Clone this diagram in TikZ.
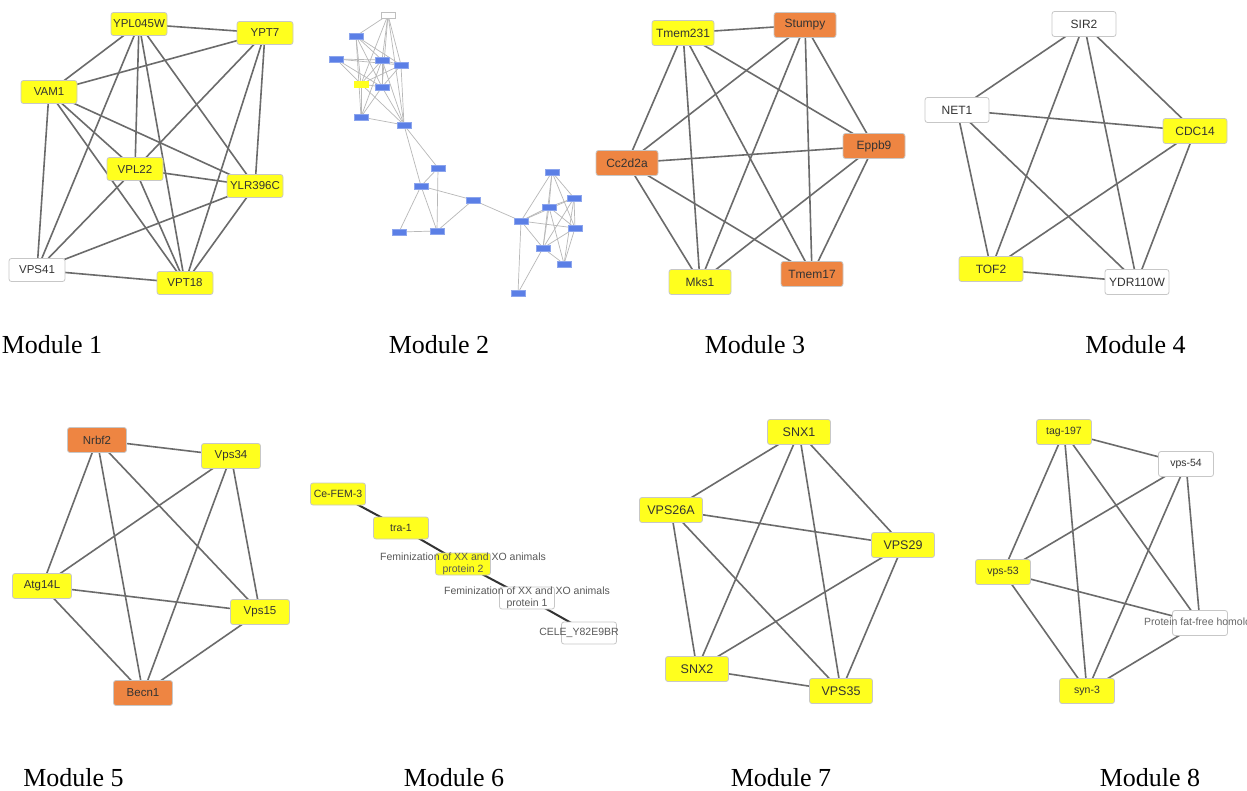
\documentclass[tikz,border=0pt]{standalone}
\usepackage{fontspec}
\setmainfont{Liberation Serif}
\newfontfamily\arialf{Liberation Sans}
\usetikzlibrary{backgrounds}
\definecolor{nyel}{HTML}{FFFF1E}
\definecolor{norg}{HTML}{EE8542}
\definecolor{nblue}{HTML}{5B7FE6}
\definecolor{ntext}{HTML}{333333}
\begin{document}
\begin{tikzpicture}[x=1pt,y=-1pt,
  gnode/.style={draw=black!22, rounded corners=2.5pt, line width=0.8pt, inner sep=0pt,
    text=ntext, minimum width=56pt, minimum height=23pt, fill=white},
  yel/.style={gnode, fill=nyel},
  org/.style={gnode, fill=norg},
  wht/.style={gnode, fill=white},
  f1/.style={font=\arialf\fontsize{11.5}{11.5}\selectfont},
  f3/.style={font=\arialf\fontsize{12}{12}\selectfont, minimum width=62pt, minimum height=25pt},
  f4/.style={font=\arialf\fontsize{12}{12}\selectfont, minimum width=64pt, minimum height=25pt},
  f5/.style={font=\arialf\fontsize{11.5}{11.5}\selectfont, minimum width=59pt, minimum height=25pt},
  f6/.style={font=\arialf\fontsize{10.5}{10.5}\selectfont, minimum width=55pt, minimum height=22pt},
  f7/.style={font=\arialf\fontsize{12.5}{12.5}\selectfont, minimum width=63pt, minimum height=25pt},
  f8/.style={font=\arialf\fontsize{10.5}{10.5}\selectfont, minimum width=55pt, minimum height=25pt},
  tiny/.style={draw=nblue!70!white, fill=nblue, minimum width=14pt, minimum height=6pt, inner sep=0pt, line width=0.4pt},
  edge/.style={draw=black!58, line width=1.6pt},
  ledge/.style={draw=black!28, line width=0.7pt},
  dedge/.style={draw=black!80, line width=2pt},
  mlabel/.style={font=\fontsize{26}{26}\selectfont, anchor=base, text=black, inner sep=0pt},
  ftext/.style={font=\arialf\fontsize{10.5}{12.5}\selectfont, text=black!65, align=center, inner sep=0pt}
]
\begin{pgfonlayer}{background}
\fill[white] (0,0) rectangle (1247,791);
\end{pgfonlayer}
\useasboundingbox (0,0) rectangle (1247,791);

% ---------------- Module 1
\node[yel,f1] (ypl) at (139,24) {YPL045W};
\node[yel,f1] (ypt7) at (265,33) {YPT7};
\node[yel,f1] (vam1) at (49,92) {VAM1};
\node[yel,f1] (vpl22) at (135,169) {VPL22};
\node[yel,f1] (ylr) at (255,186) {YLR396C};
\node[wht,f1] (vps41) at (37,270) {VPS41};
\node[yel,f1] (vpt18) at (185,283) {VPT18};
\begin{pgfonlayer}{background}
\foreach \a/\b in {ypl/ypt7,ypl/vam1,ypl/vps41,ypl/vpl22,ypl/vpt18,ypl/ylr,
  ypt7/vam1,ypt7/vpl22,ypt7/vpt18,ypt7/ylr,
  vam1/vps41,vam1/vpl22,vam1/vpt18,vam1/ylr,
  vpl22/ylr,vpl22/vps41,vpl22/vpt18,
  ylr/vps41,ylr/vpt18,vps41/vpt18}
  \draw[edge] (\a.center) -- (\b.center);
\end{pgfonlayer}

% ---------------- Module 2
\node[tiny, fill=white, draw=black!25] (m2w) at (388,15) {};
\node[tiny] (m2a) at (356,36) {};
\node[tiny] (m2b) at (336,59) {};
\node[tiny] (m2c) at (382,60) {};
\node[tiny] (m2d) at (401,65) {};
\node[tiny, fill=nyel, draw=nyel] (m2e) at (361,84) {};
\node[tiny] (m2f) at (382,87) {};
\node[tiny] (m2g) at (361,117) {};
\node[tiny] (m2h) at (404,125) {};
\node[tiny] (m2i) at (438,168) {};
\node[tiny] (m2j) at (421,186) {};
\node[tiny] (m2k) at (473,200) {};
\node[tiny] (m2l) at (399,232) {};
\node[tiny] (m2m) at (437,231) {};
\node[tiny] (m2n) at (552,172) {};
\node[tiny] (m2o) at (574,198) {};
\node[tiny] (m2p) at (549,207) {};
\node[tiny] (m2q) at (521,221) {};
\node[tiny] (m2r) at (575,228) {};
\node[tiny] (m2s) at (543,248) {};
\node[tiny] (m2t) at (564,264) {};
\node[tiny] (m2u) at (518,293) {};
\begin{pgfonlayer}{background}
\foreach \a/\b in {m2w/m2a,m2w/m2c,m2w/m2d,m2w/m2f,m2w/m2e,m2w/m2h,
  m2a/m2c,m2a/m2d,m2a/m2e,m2a/m2f,m2a/m2g,
  m2b/m2c,m2b/m2d,m2b/m2e,m2b/m2f,
  m2c/m2d,m2c/m2e,m2c/m2f,m2c/m2g,m2c/m2h,
  m2d/m2e,m2d/m2f,m2d/m2h,
  m2e/m2f,m2e/m2g,m2e/m2h,m2f/m2g,m2f/m2h,m2g/m2h,
  m2h/m2i,m2h/m2j,m2i/m2j,m2i/m2m,m2j/m2l,m2j/m2m,m2j/m2k,m2k/m2m,m2l/m2m,m2k/m2q,
  m2q/m2n,m2q/m2p,m2q/m2o,m2q/m2r,m2q/m2s,m2q/m2u,
  m2n/m2p,m2n/m2o,m2n/m2s,m2n/m2r,
  m2p/m2o,m2p/m2r,m2p/m2s,m2p/m2t,
  m2o/m2r,m2o/m2s,m2o/m2t,m2r/m2s,m2r/m2t,m2s/m2t,m2s/m2u}
  \draw[ledge] (\a.center) -- (\b.center);
\end{pgfonlayer}

% ---------------- Module 3
\node[yel,f3] (tm231) at (683,33) {Tmem231};
\node[org,f3] (stum) at (805,25) {Stumpy};
\node[org,f3] (eppb) at (874,146) {Eppb9};
\node[org,f3] (cc2) at (627,163) {Cc2d2a};
\node[yel,f3] (mks1) at (700,282) {Mks1};
\node[org,f3] (tm17) at (812,274) {Tmem17};
\begin{pgfonlayer}{background}
\foreach \a/\b in {tm231/stum,tm231/cc2,tm231/mks1,tm231/tm17,tm231/eppb,
  stum/cc2,stum/mks1,stum/tm17,stum/eppb,
  cc2/eppb,cc2/mks1,cc2/tm17,eppb/mks1,eppb/tm17}
  \draw[edge] (\a.center) -- (\b.center);
\end{pgfonlayer}

% ---------------- Module 4
\node[wht,f4] (sir2) at (1084,24) {SIR2};
\node[wht,f4] (net1) at (957,110) {NET1};
\node[yel,f4] (cdc14) at (1195,131) {CDC14};
\node[yel,f4] (tof2) at (991,269) {TOF2};
\node[wht,f4] (ydr) at (1137,282) {YDR110W};
\begin{pgfonlayer}{background}
\foreach \a/\b in {sir2/net1,sir2/tof2,sir2/ydr,sir2/cdc14,net1/cdc14,net1/tof2,net1/ydr,
  cdc14/tof2,cdc14/ydr,tof2/ydr}
  \draw[edge] (\a.center) -- (\b.center);
\end{pgfonlayer}

% ---------------- Module 5
\node[org,f5] (nrbf2) at (97,440) {Nrbf2};
\node[yel,f5] (vps34) at (231,456) {Vps34};
\node[yel,f5] (atg) at (42,586) {Atg14L};
\node[yel,f5] (vps15) at (260,612) {Vps15};
\node[org,f5] (becn) at (143,693) {Becn1};
\begin{pgfonlayer}{background}
\foreach \a/\b in {nrbf2/vps34,nrbf2/atg,nrbf2/becn,nrbf2/vps15,vps34/atg,vps34/becn,vps34/vps15,
  atg/vps15,atg/becn,vps15/becn}
  \draw[edge] (\a.center) -- (\b.center);
\end{pgfonlayer}

% ---------------- Module 6
\node[yel,f6] (fem3) at (338,494) {Ce-FEM-3};
\node[yel,f6] (tra1) at (401,528) {tra-1};
\node[yel,f6] (fxx2) at (463,564) {};
\node[wht,f6] (fxx1) at (527,598) {};
\node[wht,f6] (cele) at (589,633) {};
\begin{pgfonlayer}{background}
\foreach \a/\b in {fem3/tra1,tra1/fxx2,fxx2/fxx1,fxx1/cele}
  \draw[dedge] (\a.center) -- (\b.center);
\end{pgfonlayer}
\node[ftext] (fxx2t) at (fxx2.center) {Feminization of XX and XO animals\\protein 2};
\node[ftext] (fxx1t) at (fxx1.center) {Feminization of XX and XO animals\\protein 1};
\node[ftext] (celet) at ([xshift=-10pt]cele.center) {CELE\_Y82E9BR};

% ---------------- Module 7
\node[yel,f7] (snx1) at (799,432) {SNX1};
\node[yel,f7] (vps26) at (671,510) {VPS26A};
\node[yel,f7] (vps29) at (903,545) {VPS29};
\node[yel,f7] (snx2) at (697,669) {SNX2};
\node[yel,f7] (vps35) at (841,691) {VPS35};
\begin{pgfonlayer}{background}
\foreach \a/\b in {snx1/vps26,snx1/snx2,snx1/vps35,snx1/vps29,vps26/vps29,vps26/snx2,vps26/vps35,
  vps29/snx2,vps29/vps35,snx2/vps35}
  \draw[edge] (\a.center) -- (\b.center);
\end{pgfonlayer}

% ---------------- Module 8
\node[yel,f8] (tag) at (1064,432) {tag-197};
\node[wht,f8] (v54) at (1186,464) {vps-54};
\node[yel,f8] (v53) at (1003,572) {vps-53};
\node[wht,f8] (pff) at (1200,623) {};
\node[yel,f8] (syn3) at (1087,691) {syn-3};
\begin{pgfonlayer}{background}
\foreach \a/\b in {tag/v54,tag/v53,tag/syn3,tag/pff,v54/v53,v54/syn3,v54/pff,
  v53/pff,v53/syn3,pff/syn3}
  \draw[edge] (\a.center) -- (\b.center);
\end{pgfonlayer}
\node[ftext, anchor=west, text=black!60] (pfft) at ([xshift=-56pt]pff.center) {Protein fat-free homolog};

% ---------------- Module labels
\node[mlabel] (l1) at (52,354) {Module 1};
\node[mlabel] (l2) at (439,354) {Module 2};
\node[mlabel] (l3) at (755,354) {Module 3};
\node[mlabel] (l4) at (1135.5,354) {Module 4};
\node[mlabel] (l5) at (73.5,786) {Module 5};
\node[mlabel] (l6) at (454,786) {Module 6};
\node[mlabel] (l7) at (781,786) {Module 7};
\node[mlabel] (l8) at (1150,786) {Module 8};
\end{tikzpicture}
\end{document}
